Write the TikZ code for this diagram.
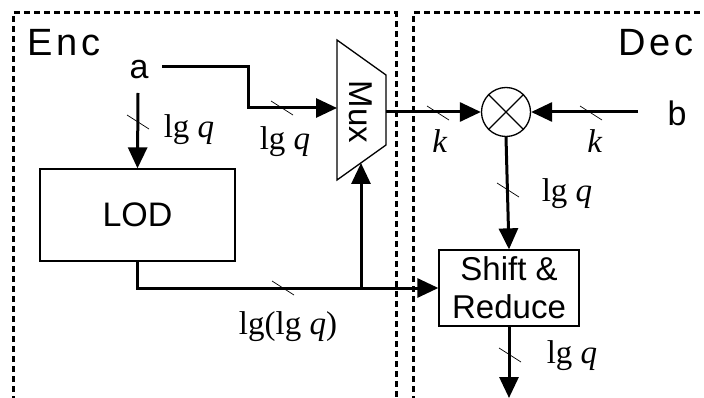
\documentclass[tikz,border=0pt]{standalone}
\usepackage{fontspec}
\setmainfont{Liberation Serif}
\setsansfont{Liberation Sans}
\newfontfamily\regionfont[LetterSpace=10]{Liberation Sans}
\usetikzlibrary{arrows.meta}
\begin{document}
\begin{tikzpicture}[x=1pt,y=-1pt,
  wire/.style={line width=3pt},
  arr/.style={wire,-{Triangle[length=21pt,width=19pt]}},
  box/.style={draw,line width=1.3pt,inner sep=0pt},
  slash/.style={line width=0.7pt},
  lbl/.style={font=\fontsize{33}{36}\selectfont,inner sep=0pt},
  sans/.style={font=\sffamily\fontsize{34}{38}\selectfont,inner sep=0pt},
  regionlbl/.style={font=\regionfont\fontsize{38}{40}\selectfont,inner sep=0pt},
  region/.style={line width=3pt,dash pattern=on 6pt off 4pt}]
\useasboundingbox (0,0) rectangle (704,398);
% regions
\draw[region] (13,402) -- (13,13) -- (396,13) -- (396,402);
\draw[region] (413,402) -- (413,13) -- (712,13);
\node[regionlbl,anchor=base west] (enc) at (27,56) {Enc};
\node[regionlbl,anchor=base east] (dec) at (694,56) {Dec};
% inputs
\node[sans] (a) at (139,70) {a};
\node[sans] (b) at (677,113) {b};
% LOD
\node[box,sans,minimum width=195pt,minimum height=92pt] (lod) at (137.5,215) {LOD};
% Mux
\coordinate (m1) at (337,40);
\coordinate (m2) at (386,75);
\coordinate (m3) at (386,145);
\coordinate (m4) at (337,180);
\draw[line width=1.3pt,line join=miter] (m1) -- (m2) -- (m3) -- (m4) -- cycle;
\node[sans,rotate=-90,font=\sffamily\fontsize{33}{36}\selectfont] (mux) at (361,112) {Mux};
\coordinate (muxin) at (337,108);
\coordinate (muxbot) at (361,163);
\coordinate (muxout) at (386,112);
% multiplier
\node[draw,circle,line width=1.3pt,minimum size=49pt,inner sep=0pt] (mul) at (506,112) {};
\draw[line width=1.3pt] (mul.north west) -- (mul.south east) (mul.north east) -- (mul.south west);
% shift & reduce
\node[box,sans,align=center,minimum width=140pt,minimum height=76pt,font=\sffamily\fontsize{33}{38}\selectfont] (sr) at (509,288) {Shift \&\\Reduce};
\coordinate (out) at (509,398);
% wires
\coordinate (aR) at (162,67);
\coordinate (aB) at (138,93);
\coordinate (bL) at (638,112);
\draw[arr] (aR) -- (248,67) -- (248,108) -- (muxin);
\draw[arr] (aB) -- (lod.north);
\draw[wire] (lod.south) |- (361,288) coordinate (j);
\draw[arr] (j) -- (sr.west);
\draw[arr] (j) -- (muxbot);
\draw[arr] (muxout) -- (mul.west);
\draw[arr] (bL) -- (mul.east);
\draw[arr] (mul.south) -- (sr.north);
\draw[arr] (sr.south) -- (out);
% bus slashes
\foreach \p in {(138,122),(282,108),(283,288),(438,113),(591,113),(508,190),(510,355)}
  \draw[slash] \p ++(-11,-7) -- ++(22,14);
% labels
\node[lbl] (l1) at (189,130) {lg \textit{q}};
\node[lbl] (l2) at (285,142) {lg \textit{q}};
\node[lbl] (k1) at (440,141) {\textit{k}};
\node[lbl] (k2) at (595,141) {\textit{k}};
\node[lbl] (l3) at (567,194) {lg \textit{q}};
\node[lbl] (l4) at (572,356) {lg \textit{q}};
\node[lbl] (l5) at (288,327) {lg(lg \textit{q})};
\end{tikzpicture}
\end{document}
